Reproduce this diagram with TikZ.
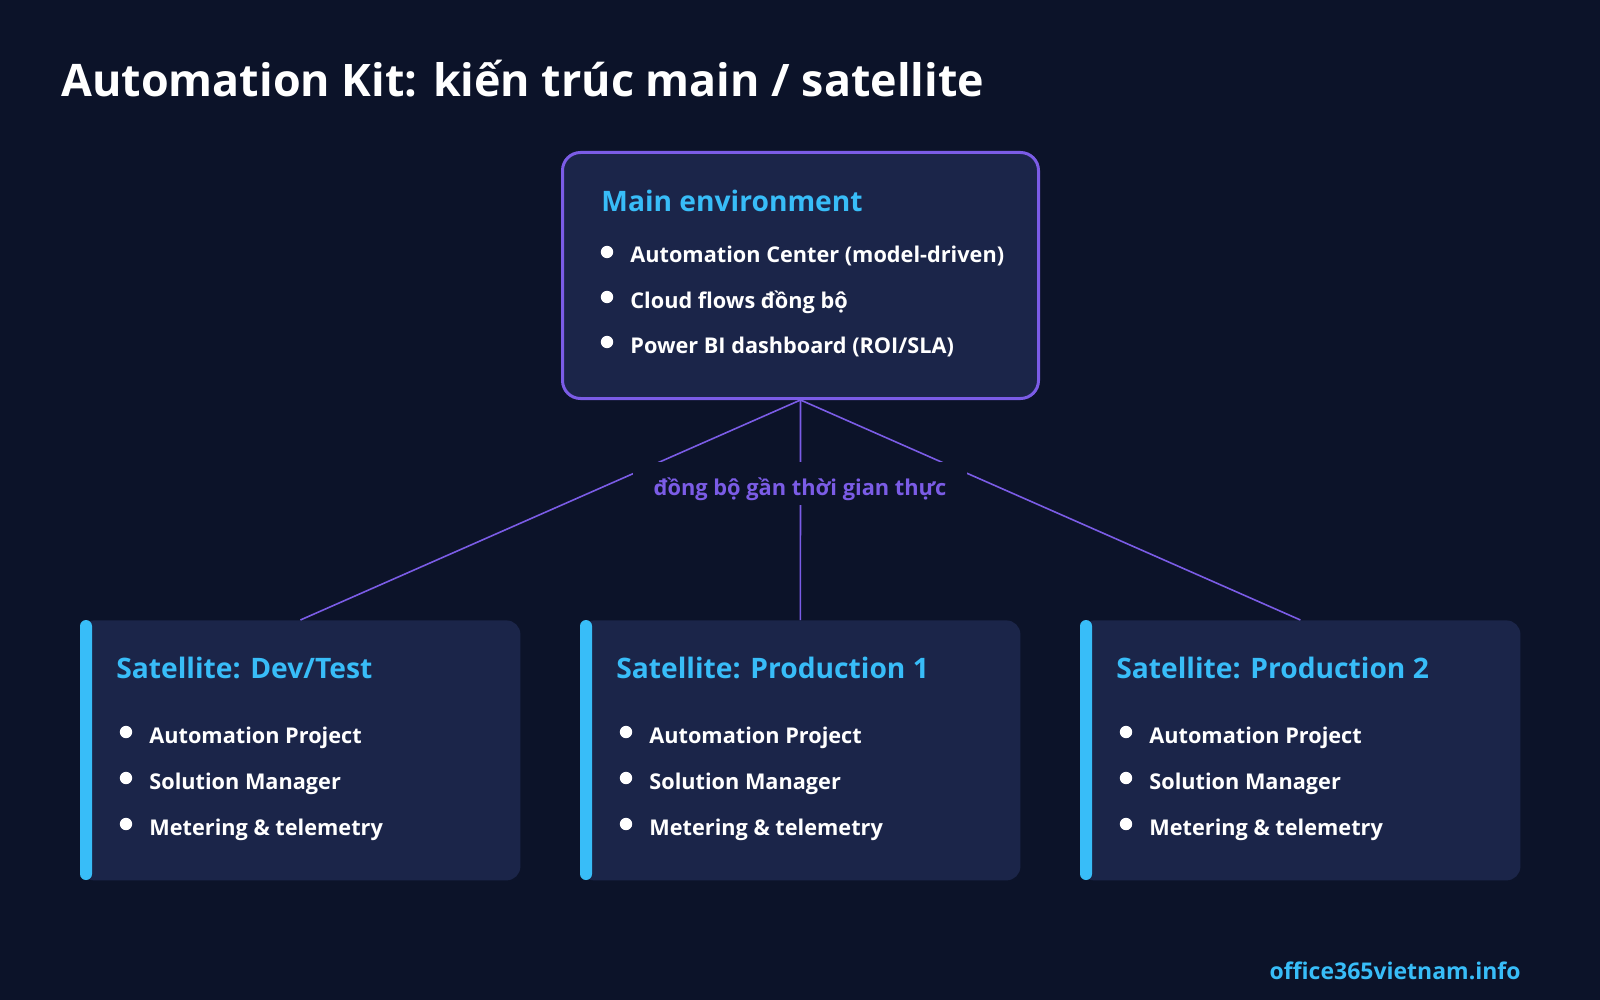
\documentclass[tikz,border=0pt]{standalone}
\usepackage{fontspec}
\setmainfont{Open Sans}
\usetikzlibrary{positioning,calc}
\definecolor{pagebg}{HTML}{0C1329}
\definecolor{cardbg}{HTML}{1B2549}
\definecolor{linkviolet}{HTML}{7B5CE6}
\definecolor{skyblue}{HTML}{38BDF8}
\tikzset{
  card/.style={fill=cardbg, rounded corners=7pt, inner sep=0pt,
               minimum width=220pt, minimum height=130pt},
  maincard/.style={draw=linkviolet, line width=1.5pt, fill=cardbg, rounded corners=9pt,
                   inner sep=0pt, minimum width=238pt, minimum height=123pt},
  cardtitle/.style={anchor=base west, inner sep=0pt, text=skyblue,
                    font=\bfseries\fontsize{14.1}{17}\selectfont},
  item/.style={anchor=base west, inner sep=0pt, text=white,
               font=\bfseries\fontsize{10.85}{13}\selectfont},
  link/.style={draw=linkviolet, line width=0.8pt},
  linklabel/.style={fill=pagebg, text=linkviolet, inner sep=0pt, minimum width=167pt,
                    minimum height=21.5pt, text height=11.5pt, text depth=0pt,
                    font=\bfseries\fontsize{10.9}{13}\selectfont},
  accent/.style={fill=skyblue, rounded corners=3pt},
}
% bullet item: name, x of dot, baseline, text
\newcommand{\carditem}[4]{%
  \fill[white] (#2,#3-11) circle (3.1pt);
  \node[item] (#1) at (#2+23,#3) {#4};
}
% satellite card: name, left edge, title
\newcommand{\satcard}[3]{%
  \node[card, anchor=north west] (#1) at (#2,620) {};
  \path[accent] (#2,620) rectangle ++(12,260);
  \node[cardtitle] (#1-t) at (#2+36,678) {#3};
  \carditem{#1-i1}{#2+46}{743}{Automation Project}
  \carditem{#1-i2}{#2+46}{789}{Solution Manager}
  \carditem{#1-i3}{#2+46}{835}{Metering \& telemetry}
}

\begin{document}
\begin{tikzpicture}[x=0.5pt, y=-0.5pt]
    \fill[pagebg] (0,0) rectangle (1600,1000);
    \useasboundingbox (0,0) rectangle (1600,1000);
    \node[anchor=base west, inner sep=0pt, text=white, font=\bfseries\fontsize{22.4}{27}\selectfont]
      (title) at (61,97) {Automation Kit: kiến trúc main / satellite};

    \node[maincard] (main) at (800.5,275.5) {};
    \node[cardtitle] (main-t) at (601,212) {Main environment};
    \carditem{main-i1}{607}{263}{Automation Center (model-driven)}
    \carditem{main-i2}{607}{308}{Cloud flows đồng bộ}
    \carditem{main-i3}{607}{353}{Power BI dashboard (ROI/SLA)}

    \satcard{dev}{80}{Satellite: Dev/Test}
    \satcard{prod1}{580}{Satellite: Production 1}
    \satcard{prod2}{1080}{Satellite: Production 2}

    \draw[link] (main.south) -- (dev.north);
    \draw[link] (main.south) -- (prod1.north);
    \draw[link] (main.south) -- (prod2.north);
    \node[linklabel] (sync) at (800,483.5) {đồng bộ gần thời gian thực};

    \node[anchor=base east, inner sep=0pt, text=skyblue, font=\bfseries\fontsize{11.5}{13}\selectfont]
      (site) at (1521,979) {office365vietnam.info};
  \end{tikzpicture}
\end{document}
